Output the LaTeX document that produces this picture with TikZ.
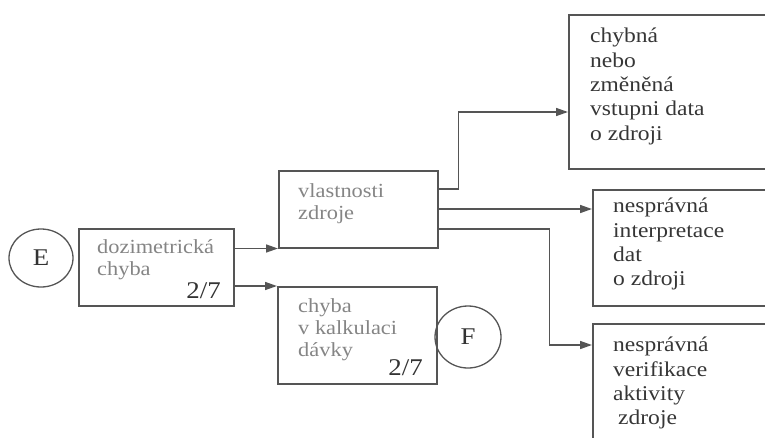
\documentclass[tikz,border=0pt]{standalone}
\usepackage{fontspec}
\setmainfont[FakeStretch=1.12]{Liberation Serif}
\usetikzlibrary{arrows.meta,calc,shapes.geometric}
\definecolor{linec}{HTML}{555555}
\definecolor{txtl}{HTML}{858585}
\definecolor{txtd}{HTML}{363636}
\definecolor{numc}{HTML}{333333}
\tikzset{
  box/.style={draw=linec, line width=1.5pt, inner sep=0pt, anchor=north west},
  lbl/.style={anchor=north west, inner sep=0pt, align=left, text=txtl, font=\fontsize{20}{22}\selectfont},
  rlbl/.style={anchor=north west, inner sep=0pt, align=left, text=txtd, font=\fontsize{21}{24.3}\selectfont},
  numl/.style={anchor=base east, inner sep=0pt, text=numc, font=\fontsize{24}{26}\selectfont},
  circ/.style={ellipse, draw=linec, line width=1.3pt, inner sep=0pt, text=numc, font=\fontsize{24}{26}\selectfont},
  arr/.style={draw=linec, line width=1.5pt, -{Triangle[length=12pt,width=8pt]}}
}
\begin{document}
\begin{tikzpicture}[x=1pt,y=-1pt]
\clip (0,0) rectangle (765,437);
% boxes
\node[box, minimum width=155pt, minimum height=77pt] (dz) at (78,228) {};
\node[box, minimum width=159pt, minimum height=77pt] (vl) at (278,170) {};
\node[box, minimum width=159pt, minimum height=97pt] (ch) at (277,286) {};
\node[box, minimum width=250pt, minimum height=154pt] (b1) at (568,14) {};
\node[box, minimum width=250pt, minimum height=116pt] (b2) at (592,189) {};
\node[box, minimum width=250pt, minimum height=150pt] (b3) at (592,323) {};
% circles
\node[circ, minimum width=64pt, minimum height=58pt] (E) at (41,258) {E};
\node[circ, minimum width=66pt, minimum height=62pt] (F) at (468,337) {F};
% texts
\node[lbl] (tdz) at (97,239) {dozimetrická\\chyba};
\node[numl] (ndz) at (221,298) {2/7};
\node[lbl] (tvl) at (298,183) {vlastnosti\\zdroje};
\node[lbl] (tch) at (298,298) {chyba\\v kalkulaci\\dávky};
\node[numl] (nch) at (423,375) {2/7};
\node[rlbl] (tb1) at (590,28) {chybná\\nebo\\změněná\\vstupni data\\o zdroji};
\node[rlbl] (tb2) at (613,198) {nesprávná\\interpretace\\dat\\o zdroji};
\node[rlbl] (tb3) at (613,337) {nesprávná\\verifikace\\aktivity\\\hspace{5pt}zdroje};
% connectors
\draw[arr] (dz.east |- vl.south west) -- (vl.south west);
\draw[arr] (dz.east |- ch.north west) -- (ch.north west);
\draw[arr] ($(vl.north east)+(0,19)$) -- ++(20,0) |- ($(b1.north west)+(0,98)$);
\draw[arr] ($(vl.north east)+(0,39)$) -- ($(b2.north west)+(0,20)$);
\draw[arr] ($(vl.north east)+(0,59)$) -- ++(111,0) |- ($(b3.north west)+(0,22)$);
\end{tikzpicture}
\end{document}
